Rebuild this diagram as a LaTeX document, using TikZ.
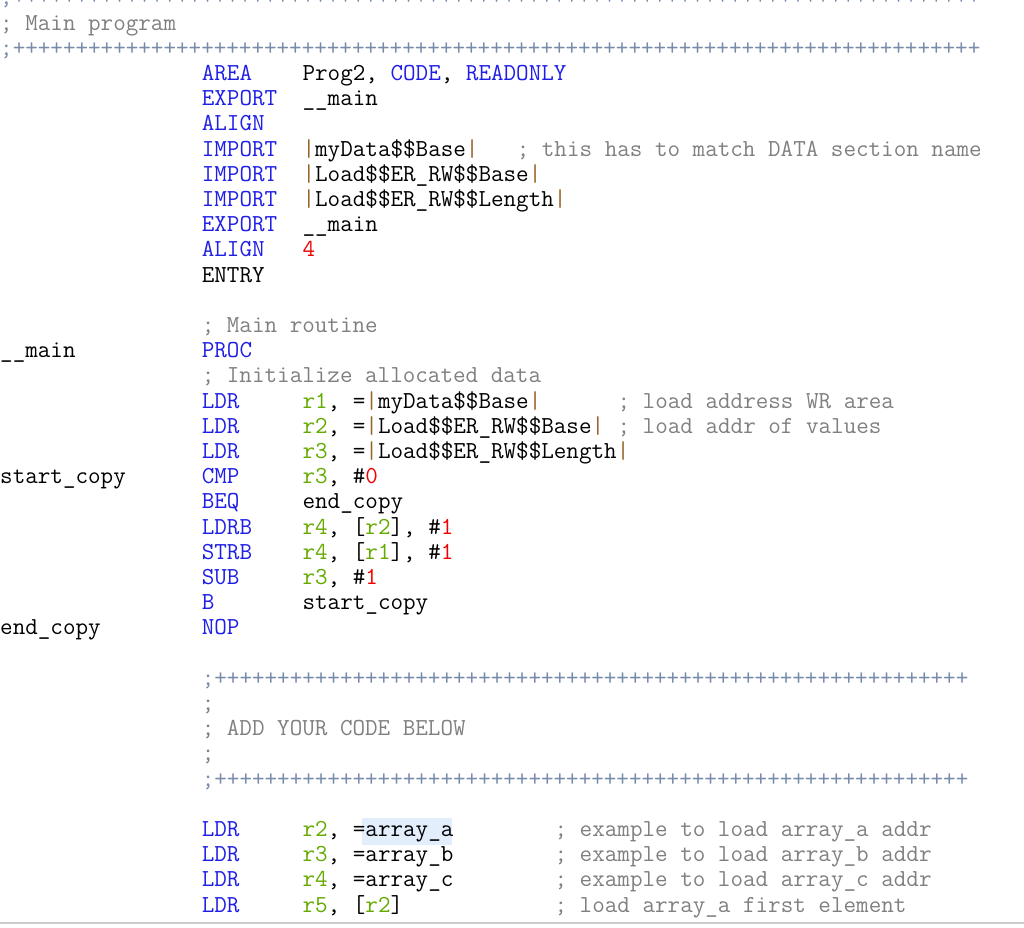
\documentclass[tikz,border=0pt]{standalone}
\definecolor{kwc}{RGB}{30,30,230}
\definecolor{rgc}{RGB}{100,170,0}
\definecolor{nmc}{RGB}{240,0,0}
\definecolor{cmc}{RGB}{128,128,128}
\definecolor{plc}{RGB}{120,140,170}
\definecolor{ppc}{RGB}{150,100,40}
\definecolor{hlc}{RGB}{226,238,252}
\newcommand\Kw[1]{\textcolor{kwc}{#1}}
\newcommand\Rg[1]{\textcolor{rgc}{#1}}
\newcommand\Nm[1]{\textcolor{nmc}{#1}}
\newcommand\Cm[1]{\textcolor{cmc}{#1}}
\newcommand\Pp{\textcolor{ppc}{|}}
\newcommand\Pl[1]{\textcolor{plc}{;\foreach\i in {1,...,#1}{+}}}
\begin{document}
\begin{tikzpicture}[x=1pt,y=1pt,
  code/.style={anchor=base west,inner sep=0pt,font=\ttfamily\fontsize{24.4}{25}\selectfont}]
\useasboundingbox (0,0) rectangle (1024,-927);
\fill[white] (0,0) rectangle (1024,-927);
\fill[hlc] (362,-818) rectangle (452,-845);
\draw[black!20,line width=2pt] (0,-923) -- (1024,-923);
\newcommand\Ln[3]{\node[code] at (#2*12.6,{-(30+25.2*(#1-1))}) {#3};}
\Ln{0}{0}{\Pl{77}}
\Ln{1}{0}{\Cm{; Main program}}
\Ln{2}{0}{\Pl{77}}
\Ln{3}{16}{\Kw{AREA}}\Ln{3}{24}{Prog2, \Kw{CODE}, \Kw{READONLY}}
\Ln{4}{16}{\Kw{EXPORT}}\Ln{4}{24}{\_\_main}
\Ln{5}{16}{\Kw{ALIGN}}
\Ln{6}{16}{\Kw{IMPORT}}\Ln{6}{24}{\Pp{}myData\$\$Base\Pp}\Ln{6}{41}{\Cm{; this has to match DATA section name}}
\Ln{7}{16}{\Kw{IMPORT}}\Ln{7}{24}{\Pp{}Load\$\$ER\_RW\$\$Base\Pp}
\Ln{8}{16}{\Kw{IMPORT}}\Ln{8}{24}{\Pp{}Load\$\$ER\_RW\$\$Length\Pp}
\Ln{9}{16}{\Kw{EXPORT}}\Ln{9}{24}{\_\_main}
\Ln{10}{16}{\Kw{ALIGN}}\Ln{10}{24}{\Nm{4}}
\Ln{11}{16}{ENTRY}
\Ln{13}{16}{\Cm{; Main routine}}
\Ln{14}{0}{\_\_main}\Ln{14}{16}{\Kw{PROC}}
\Ln{15}{16}{\Cm{; Initialize allocated data}}
\Ln{16}{16}{\Kw{LDR}}\Ln{16}{24}{\Rg{r1}, =\Pp{}myData\$\$Base\Pp}\Ln{16}{49}{\Cm{; load address WR area}}
\Ln{17}{16}{\Kw{LDR}}\Ln{17}{24}{\Rg{r2}, =\Pp{}Load\$\$ER\_RW\$\$Base\Pp}\Ln{17}{49}{\Cm{; load addr of values}}
\Ln{18}{16}{\Kw{LDR}}\Ln{18}{24}{\Rg{r3}, =\Pp{}Load\$\$ER\_RW\$\$Length\Pp}
\Ln{19}{0}{start\_copy}\Ln{19}{16}{\Kw{CMP}}\Ln{19}{24}{\Rg{r3}, \#\Nm{0}}
\Ln{20}{16}{\Kw{BEQ}}\Ln{20}{24}{end\_copy}
\Ln{21}{16}{\Kw{LDRB}}\Ln{21}{24}{\Rg{r4}, [\Rg{r2}], \#\Nm{1}}
\Ln{22}{16}{\Kw{STRB}}\Ln{22}{24}{\Rg{r4}, [\Rg{r1}], \#\Nm{1}}
\Ln{23}{16}{\Kw{SUB}}\Ln{23}{24}{\Rg{r3}, \#\Nm{1}}
\Ln{24}{16}{\Kw{B}}\Ln{24}{24}{start\_copy}
\Ln{25}{0}{end\_copy}\Ln{25}{16}{\Kw{NOP}}
\Ln{27}{16}{\Pl{60}}
\Ln{28}{16}{\Cm{;}}
\Ln{29}{16}{\Cm{; ADD YOUR CODE BELOW}}
\Ln{30}{16}{\Cm{;}}
\Ln{31}{16}{\Pl{60}}
\Ln{33}{16}{\Kw{LDR}}\Ln{33}{24}{\Rg{r2}, =array\_a}\Ln{33}{44}{\Cm{; example to load array\_a addr}}
\Ln{34}{16}{\Kw{LDR}}\Ln{34}{24}{\Rg{r3}, =array\_b}\Ln{34}{44}{\Cm{; example to load array\_b addr}}
\Ln{35}{16}{\Kw{LDR}}\Ln{35}{24}{\Rg{r4}, =array\_c}\Ln{35}{44}{\Cm{; example to load array\_c addr}}
\Ln{36}{16}{\Kw{LDR}}\Ln{36}{24}{\Rg{r5}, [\Rg{r2}]}\Ln{36}{44}{\Cm{; load array\_a first element}}
\end{tikzpicture}
\end{document}
